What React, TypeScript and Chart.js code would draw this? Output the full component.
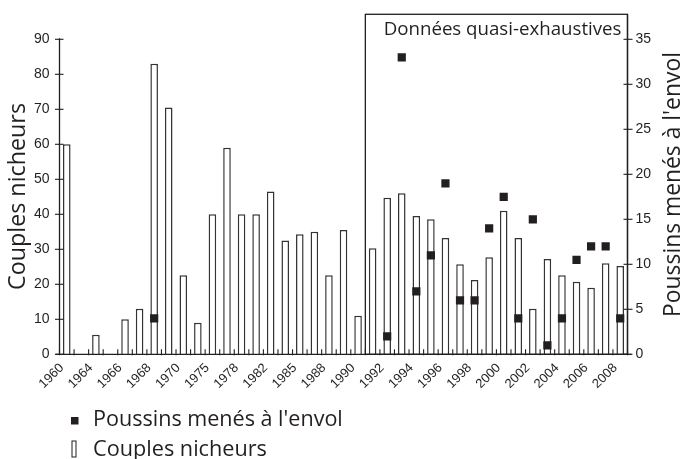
import React, { useEffect, useRef } from 'react';
import { Chart, registerables } from 'chart.js';

Chart.register(...registerables);

// ---- data ----
const years = [
  '1960', '1962', '1964', '1965', '1966', '1967', '1968', '1969', '1970', '1972',
  '1975', '1977', '1978', '1980', '1982', '1984', '1985', '1987', '1988', '1989',
  '1990', '1991', '1992', '1993', '1994', '1995', '1996', '1997', '1998', '1999',
  '2000', '2001', '2002', '2003', '2004', '2005', '2006', '2007', '2008',
];

const couplesNicheurs = [
  60, null, 5.6, null, 10, 13, 83, 70.5, 22.6, 9,
  40, 59, 40, 40, 46.5, 32.5, 34.3, 35, 22.6, 35.5,
  11, 30.3, 44.7, 46, 39.5, 38.6, 33.2, 25.7, 21.2, 27.7,
  41, 33.2, 13, 27.2, 22.6, 20.7, 19, 26, 25.2,
];

const poussinsEnvol = [
  null, null, null, null, null, null, 4, null, null, null,
  null, null, null, null, null, null, null, null, null, null,
  null, null, 2, 33, 7, 11, 19, 6, 6, 14,
  17.5, 4, 15, 1, 4, 10.5, 12, 12, 4,
];

const leftTicks = [0, 10, 20, 30, 40, 50, 60, 70, 80, 90];
const rightTicks = [0, 5, 10, 15, 20, 25, 30, 35];

const firstExhaustiveYear = '1991';
const boxLabel = 'Données quasi-exhaustives';
const leftTitle = 'Couples nicheurs';
const rightTitle = "Poussins menés à l'envol";
const legendPoussins = "Poussins menés à l'envol";
const legendCouples = 'Couples nicheurs';

const INK = '#231f20';
const SANS = '"Open Sans", "Noto Sans", sans-serif';
const TICKFONT = '"Liberation Sans", Arial, sans-serif';

function fitFont(ctx: CanvasRenderingContext2D, text: string, target: number) {
  ctx.font = `100px ${SANS}`;
  const w = ctx.measureText(text).width;
  return (100 * target) / w;
}

const overlay = {
  id: 'overlay',
  afterDraw(chart: any) {
    const { ctx, chartArea: a } = chart;
    const yS = chart.scales.y;
    const y1S = chart.scales.y1;
    const n = years.length;
    const cw = (a.right - a.left) / n;
    const boxTop = a.top - 25;

    const line = (x1: number, y1: number, x2: number, y2: number) => {
      ctx.beginPath();
      ctx.moveTo(x1, y1);
      ctx.lineTo(x2, y2);
      ctx.stroke();
    };

    ctx.save();
    ctx.strokeStyle = INK;
    ctx.lineWidth = 1.3;
    // axes
    line(a.left, a.top - 1, a.left, a.bottom);
    line(a.left - 4, a.bottom, a.right + 4, a.bottom);
    line(a.right, boxTop, a.right, a.bottom);
    // x tick marks at category boundaries
    ctx.lineWidth = 1.1;
    for (let i = 0; i <= n; i++) {
      const px = a.left + i * cw;
      line(px, a.bottom - 5, px, a.bottom + 1);
    }
    // y tick marks
    leftTicks.forEach((v) => {
      const py = yS.getPixelForValue(v);
      line(a.left - 4.5, py, a.left + 4, py);
    });
    rightTicks.forEach((v) => {
      const py = y1S.getPixelForValue(v);
      line(a.right - 4, py, a.right + 5, py);
    });
    // box
    ctx.lineWidth = 1.3;
    const bi = years.indexOf(firstExhaustiveYear);
    const bx = a.left + bi * cw;
    ctx.strokeRect(bx, boxTop, a.right - bx, a.bottom - boxTop);

    ctx.fillStyle = INK;
    // box label
    let fs = fitFont(ctx, boxLabel, 238);
    ctx.font = `${fs}px ${SANS}`;
    ctx.textAlign = 'right';
    ctx.textBaseline = 'alphabetic';
    ctx.fillText(boxLabel, a.right - 6, boxTop + 21);

    // left title
    fs = fitFont(ctx, leftTitle, 187);
    ctx.save();
    ctx.translate(25, 196.5);
    ctx.rotate(-Math.PI / 2);
    ctx.font = `${fs}px ${SANS}`;
    ctx.textAlign = 'center';
    ctx.fillText(leftTitle, 0, 0);
    ctx.restore();

    // right title
    fs = fitFont(ctx, rightTitle, 265);
    ctx.save();
    ctx.translate(680, 184.5);
    ctx.rotate(-Math.PI / 2);
    ctx.font = `${fs}px ${SANS}`;
    ctx.textAlign = 'center';
    ctx.fillText(rightTitle, 0, 0);
    ctx.restore();

    // legend
    ctx.textAlign = 'left';
    ctx.fillRect(71, 417, 7.5, 7.5);
    fs = fitFont(ctx, legendPoussins, 250);
    ctx.font = `${fs}px ${SANS}`;
    ctx.fillText(legendPoussins, 93, 426);
    ctx.lineWidth = 1;
    ctx.strokeRect(72, 441, 4, 16);
    fs = fitFont(ctx, legendCouples, 174);
    ctx.font = `${fs}px ${SANS}`;
    ctx.fillText(legendCouples, 93, 456);
    ctx.restore();
  },
};

export default function App() {
  const ref = useRef<HTMLCanvasElement>(null);

  useEffect(() => {
    document.body.style.margin = '0';
    const canvas = ref.current;
    if (!canvas) return;
    const chart = new Chart(canvas, {
      type: 'bar',
      data: {
        labels: years,
        datasets: [
          {
            type: 'line',
            label: legendPoussins,
            data: poussinsEnvol,
            yAxisID: 'y1',
            showLine: false,
            pointStyle: 'rect',
            pointRadius: 5.8,
            pointBackgroundColor: INK,
            pointBorderWidth: 0,
            borderColor: INK,
            backgroundColor: INK,
            order: 0,
          } as any,
          {
            type: 'bar',
            label: legendCouples,
            data: couplesNicheurs,
            yAxisID: 'y',
            backgroundColor: '#ffffff',
            borderColor: '#333333',
            borderWidth: 1.5,
            barPercentage: 0.52,
            categoryPercentage: 1,
            order: 1,
          },
        ],
      },
      options: {
        responsive: false,
        maintainAspectRatio: false,
        animation: false,
        devicePixelRatio: 1,
        layout: { padding: { top: 39.3, left: 0, right: 0, bottom: 0 } },
        plugins: {
          legend: { display: false },
          tooltip: { enabled: false },
        },
        scales: {
          x: {
            grid: { display: false, drawTicks: false },
            border: { display: false },
            afterFit: (s: any) => {
              s.height = 104.7;
            },
            ticks: {
              autoSkip: false,
              maxRotation: 45,
              minRotation: 45,
              padding: 6,
              labelOffset: -5,
              color: INK,
              font: { family: TICKFONT, size: 13 },
              callback: (_v: any, i: number) => (i % 2 === 0 ? years[i] : ''),
            },
          },
          y: {
            position: 'left',
            min: 0,
            max: 90,
            grid: { display: false, drawTicks: false },
            border: { display: false },
            afterFit: (s: any) => {
              s.width = 59.5;
            },
            afterBuildTicks: (s: any) => {
              s.ticks = leftTicks.map((v) => ({ value: v }));
            },
            ticks: {
              padding: 10,
              color: INK,
              font: { family: TICKFONT, size: 14 },
            },
          },
          y1: {
            position: 'right',
            min: 0,
            max: 35,
            grid: { display: false, drawTicks: false },
            border: { display: false },
            afterFit: (s: any) => {
              s.width = 54.5;
            },
            afterBuildTicks: (s: any) => {
              s.ticks = rightTicks.map((v) => ({ value: v }));
            },
            ticks: {
              padding: 8,
              color: INK,
              font: { family: TICKFONT, size: 14 },
            },
          },
        },
      },
      plugins: [overlay],
    });
    return () => chart.destroy();
  }, []);

  return (
    <div style={{ width: 682, height: 459, background: '#fff' }}>
      <canvas ref={ref} width={682} height={459} style={{ display: 'block' }} />
    </div>
  );
}
